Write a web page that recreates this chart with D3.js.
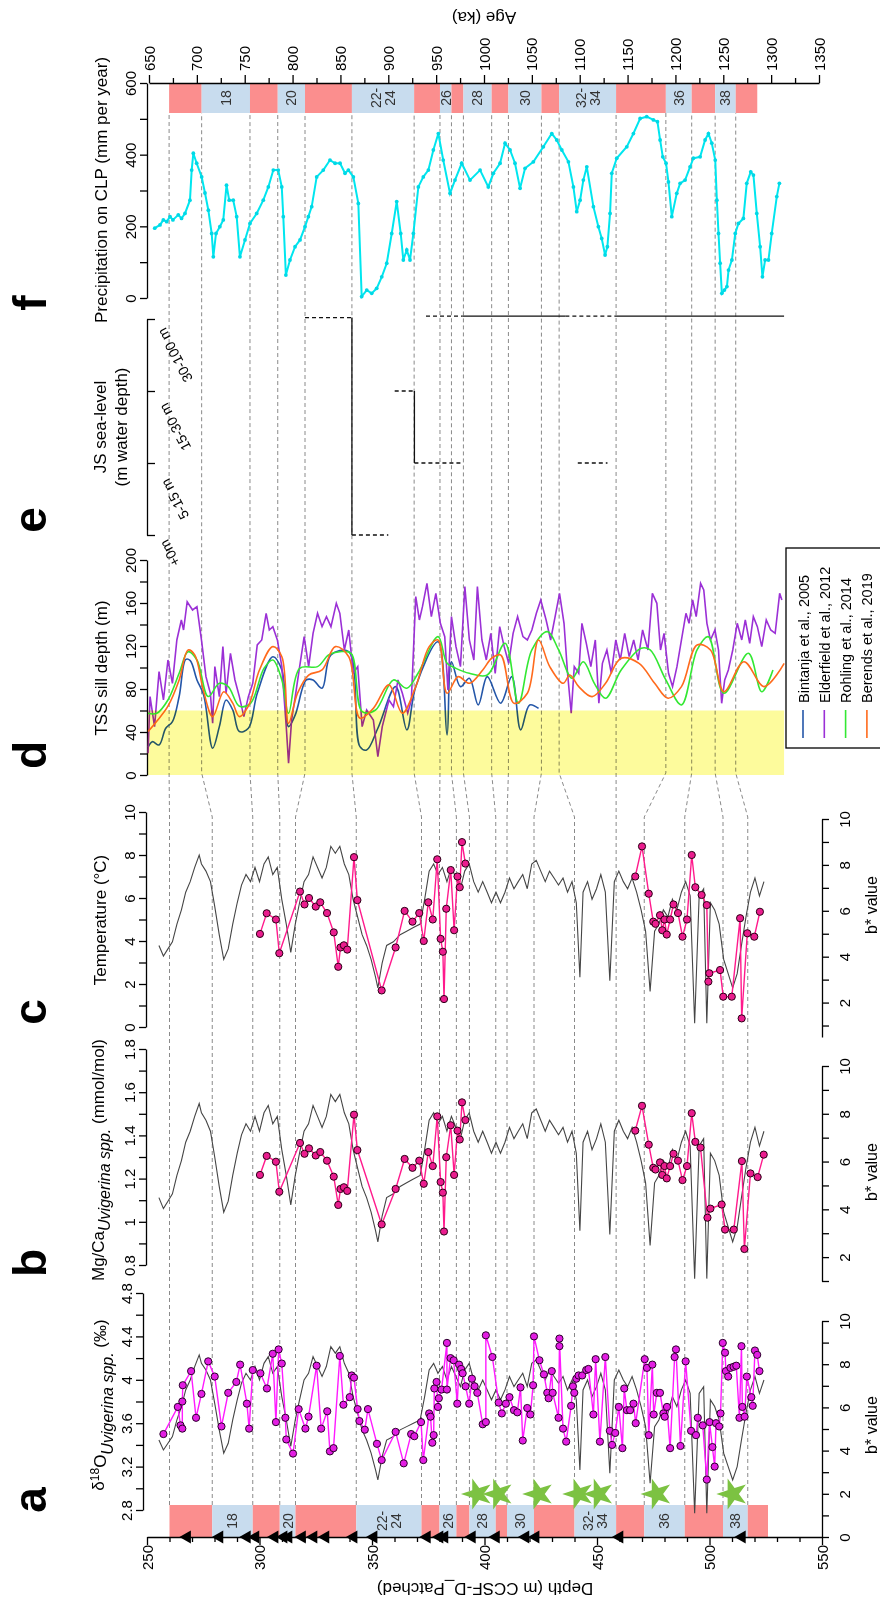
<!DOCTYPE html>
<html><head><meta charset="utf-8">
<script src="https://cdn.jsdelivr.net/npm/d3@7"></script>
<style>body{margin:0;background:#fff}svg{display:block;font-family:Arial,"Liberation Sans",Helvetica,sans-serif}</style>
</head><body><svg id="c" width="880" height="1600"></svg>
<script>
// ---------------- DATA ----------------
const depthBounds = [260,279,297,309,316,343,372,380,387.5,393.3,405,410,422,440,458.5,471,489,506,517,526];
const ageBounds   = [671,705,755.5,784.5,813,862,927,954,966,978.5,1008,1025.5,1060,1078.5,1138,1190,1217,1241.5,1263,1285.5];
const bandKinds   = ["r","b","r","b","r","b","r","b","r","b","r","b","r","b","r","b","r","b","r"];
const bandLabels  = ["","18","","20","","22-|24","","26","","28","","30","","32-|34","","36","","38",""];
const triangleDepths = [267.8,282.2,294.4,298.2,306.7,310.7,312.9,318.9,324,329.3,341.8,350.7,374.4,380,382.2,394.4,405.1,418.2,422.7,460,514.4];
const starDepths = [396.8,406.1,424,441.8,450.8,476.6,510.3];

// b* value (gray, panels a-c) [depth, b*]
const bStar = [[255.3,4.49],[257.3,4.03],[259.3,4.34],[261.3,4.65],[263.3,5.42],[265.3,6.04],[267.2,6.81],[269.2,7.27],[271.2,7.89],[273.2,8.43],[274.2,8.04],[276.2,7.73],[278.2,7.27],[280.1,6.19],[282.1,4.96],[284.1,3.88],[286.1,4.34],[288.1,5.42],[290.1,6.35],[292,7.12],[294,7.58],[296,7.27],[298,7.89],[300,7.27],[302,8.04],[303.9,8.35],[305.9,7.58],[307.9,7.89],[309.9,6.5],[311.9,5.42],[313.9,4.19],[315.9,5.42],[317.8,6.35],[319.8,7.27],[321.8,7.58],[323.8,8.35],[325.8,7.89],[327.8,7.43],[329.7,7.89],[331.7,8.81],[333.7,8.51],[335.7,8.81],[337.7,8.04],[339.7,7.58],[341.6,6.5],[343.6,5.73],[345.6,4.96],[347.6,4.49],[349.6,3.88],[351.6,3.1],[352.6,2.64],[354.5,3.72],[356.5,4.49],[359.5,4.65],[362.5,4.96],[365.4,5.11],[368.4,5.27],[371.4,5.42],[373.4,6.5],[375.4,7.73],[377.4,8.04],[379.3,7.58],[381.3,7.89],[383.3,7.27],[385.3,7.89],[387.3,7.43],[389.3,6.96],[391.2,7.73],[393.2,8.04],[395.2,7.27],[397.2,6.81],[399.2,7.27],[401.2,6.81],[403.1,6.35],[405.1,6.81],[407.1,6.35],[409.1,6.81],[411.1,7.43],[413.1,6.96],[415,7.27],[417,7.58],[419,6.96],[421,8.04],[423,8.2],[425,7.73],[427,7.27],[428.9,7.73],[430.9,7.43],[432.9,7.12],[434.9,7.43],[436.9,6.81],[438.9,7.27],[440.8,6.35],[442.4,3.1],[443.8,6.81],[445.8,7.27],[447.8,6.5],[449.8,6.96],[451.7,7.58],[453.7,6.81],[455.7,2.95],[457.7,7.27],[459.7,7.73],[461.7,7.27],[463.6,6.96],[465.6,7.43],[467.6,6.81],[469.6,6.04],[471.6,5.11],[473.6,2.49],[475.6,5.11],[477.5,5.42],[479.5,6.04],[481.5,5.73],[483.5,6.5],[485.5,6.04],[487.5,6.81],[489.4,7.27],[491.4,6.65],[493.4,1.1],[495.4,6.65],[497.4,6.96],[498.8,1.1],[500.4,6.35],[502.3,6.04],[504.3,5.42],[506.3,3.88],[508.3,3.26],[510.3,2.64],[512.3,3.26],[514.2,4.49],[516.2,5.73],[518.2,6.81],[520.2,7.43],[522.2,6.65],[524.2,7.27]];

// delta18O Uvigerina spp. [depth, permil]
const d18O = [[257.3,3.5],[263.7,3.75],[264.9,3.58],[265.7,3.55],[265.7,3.8],[265.9,3.95],[269.6,4.08],[271.8,3.65],[274.2,3.87],[277.2,4.17],[280.1,4.03],[283.1,3.57],[286.1,3.88],[289.7,3.98],[291.4,4.14],[294.4,3.78],[295.4,3.55],[297,4.09],[300.4,4.06],[303.3,3.92],[305.9,4.24],[307.3,3.61],[308.5,4.28],[309.9,4.15],[311.5,3.65],[311.9,3.45],[314.9,3.32],[317.4,3.73],[320.4,3.55],[321.8,3.66],[325.4,4.13],[327.4,3.55],[330.1,3.71],[331.3,3.34],[332.9,3.37],[335.7,4.22],[337.3,3.77],[340.1,3.84],[341,4.04],[342,4.02],[343.6,3.73],[344.4,3.62],[346.8,3.54],[348.2,3.73],[352.2,3.41],[354.3,3.26],[360.5,3.52],[364.1,3.23],[367.4,3.5],[368.8,3.48],[371.8,3.61],[372.8,3.26],[375.4,3.69],[376,3.66],[376.8,3.42],[377.4,3.49],[377.7,3.92],[378.7,3.98],[379.3,3.75],[379.7,3.83],[380.9,3.91],[383.3,4.34],[383.3,3.91],[384.9,4.2],[386.3,4.18],[387.9,3.78],[388.7,4.14],[389.6,4.1],[390.3,4.06],[391.6,3.94],[393.2,3.78],[394.4,4.01],[395.6,3.94],[396.8,3.88],[399.2,3.59],[400.6,3.61],[400.6,4.41],[403.5,4.21],[406.3,3.79],[407.7,3.69],[409.5,3.78],[411.1,3.84],[413.1,3.72],[414.6,3.7],[416,3.93],[417,3.44],[419,3.74],[420.4,3.68],[421.6,3.95],[422,4.4],[424.4,4.18],[426.4,4.05],[427.9,3.88],[428.5,3.83],[429.9,4.08],[430.3,3.88],[432.9,3.65],[433.3,4.31],[433.3,4.38],[434.9,3.55],[436.3,3.43],[438.5,3.76],[439.3,3.94],[439.9,3.88],[440.8,4.01],[441.8,4.04],[443.4,4.04],[445.2,4.09],[446.2,4.1],[448.4,3.68],[449.4,4.19],[451.3,3.43],[453.7,4.21],[455.7,3.53],[456.7,3.4],[458.1,3.51],[459.7,3.75],[461.3,3.37],[462.1,3.92],[463.3,3.72],[464.7,3.72],[466.2,3.78],[467.2,3.6],[471.2,4.19],[472.2,4.11],[473,3.49],[474.6,4.14],[475.2,3.68],[476.6,3.88],[478,3.88],[479.5,3.69],[480.1,3.66],[481.1,3.75],[482.5,3.37],[484.5,4.21],[485.1,4.28],[487.1,3.39],[489.4,4.17],[491.8,3.53],[494,3.49],[494.8,3.65],[497,3.58],[498.8,3.08],[500,3.61],[501.3,3.38],[502.3,3.2],[502.9,3.6],[504.3,3.57],[504.9,3.69],[505.9,4.34],[506.9,4.25],[507.3,4.08],[508.3,4.03],[509.3,4.11],[510.7,4.12],[511.9,4.13],[513.3,3.65],[514.2,4.31],[514.6,3.75],[515.6,3.66],[516.6,4.03],[518.6,3.84],[519.2,3.76],[520.2,4.27],[521.2,4.23],[522.2,4.08]];

// Mg/Ca Uvigerina spp. [depth, mmol/mol]
const mgca = [[300.2,1.217],[303.2,1.305],[307.3,1.278],[308.8,1.139],[318,1.365],[320,1.315],[322,1.34],[325,1.307],[327,1.323],[330,1.283],[333,1.209],[335,1.078],[336,1.152],[337.5,1.16],[339,1.143],[342,1.496],[343.5,1.332],[354.3,0.988],[360.5,1.152],[364.5,1.291],[368,1.25],[371,1.283],[373,1.176],[375,1.323],[377,1.258],[379,1.488],[380.5,1.184],[381.5,1.135],[382,0.955],[383,1.299],[385,1.447],[386.5,1.217],[388,1.422],[389,1.381],[390,1.553],[391.5,1.471],[467,1.422],[470,1.537],[473,1.357],[475,1.25],[476,1.242],[478,1.275],[479,1.217],[480,1.258],[481,1.201],[482.5,1.258],[484,1.315],[486,1.283],[488,1.193],[490,1.258],[492.1,1.503],[493.7,1.37],[496,1.344],[499.1,1.019],[500.4,1.061],[505.4,1.08],[506.9,0.964],[510.8,0.964],[514.4,1.281],[515.5,0.874],[518.2,1.224],[521.4,1.207],[524.1,1.311]];

// Temperature [depth, degC]
const temp = [[300.2,4.33],[303.2,5.29],[307.3,5.0],[308.8,3.43],[318,6.3],[320,5.7],[322,6.0],[325,5.6],[327,5.8],[330,5.3],[333,4.4],[335,2.8],[336,3.7],[337.5,3.8],[339,3.6],[342,7.9],[343.5,5.9],[354.3,1.7],[360.5,3.7],[364.5,5.4],[368,4.9],[371,5.3],[373,4.0],[375,5.8],[377,5.0],[379,7.8],[380.5,4.1],[381.5,3.5],[382,1.3],[383,5.5],[385,7.3],[386.5,4.5],[388,7.0],[389,6.5],[390,8.6],[391.5,7.6],[467,7.0],[470,8.4],[473,6.2],[475,4.9],[476,4.8],[478,5.2],[479,4.5],[480,5.0],[481,4.3],[482.5,5.0],[484,5.7],[486,5.3],[488,4.2],[490,5.0],[492.1,8.0],[493.7,6.5],[496.5,6.14],[498.8,5.67],[499.5,2.11],[499.9,2.5],[504.7,2.65],[506.1,1.41],[509.9,1.41],[513.6,5.06],[514.3,0.4],[516.8,4.36],[519.9,4.2],[522.4,5.36]];

// TSS sill depth [age ka, m]
const bintanja = [[649,26],[653.5,31],[660.5,28],[667.5,43.5],[674.5,49.7],[681.5,73],[688.5,107.6],[693.1,106.4],[700.1,88.4],[707.1,74.4],[716.5,24.9],[723.5,45],[730.5,69.8],[737.5,60.5],[744.4,40.4],[753.8,43.5],[763.1,76],[779.4,110],[788.8,97.7],[795.8,45],[802.8,55.9],[814.4,88.4],[821.4,88.4],[830.8,80.7],[840.1,111.7],[858.7,114.7],[870.4,26.4],[877.4,23.3],[889.1,43.5],[907.7,82.2],[919.4,42],[928.7,82.2],[952,124],[961.4,37.3],[966,105.4],[975.4,82.2],[984.7,90],[994,65.2],[1003.4,91.5],[1017.4,66.8],[1029,91.5],[1038.3,42],[1047.7,65.2],[1057,62]];
const elderfield = [[649,20.2],[651.1,72.9],[655.8,45],[660.5,96.2],[665.1,69.8],[669.8,107],[674.5,85.3],[679.1,125.6],[683.8,144.2],[686.1,134.9],[689.9,161.2],[695.5,153.5],[700.1,156.6],[704.8,125.6],[709.5,91.5],[714.1,76],[716.5,48.1],[718.8,100.8],[723.5,72.9],[727.2,119.4],[730.5,76],[735.1,113.2],[739.8,88.4],[744.4,72.9],[749.1,54.3],[753.8,72.9],[758.4,85.3],[763.1,121],[767.8,125.6],[772.4,150.4],[775.7,134.9],[779.4,138],[784.1,125.6],[788.8,100.8],[793.4,45],[795.8,10.9],[799,51.2],[802.8,72.9],[807.4,100.8],[812.1,128.7],[816.8,100.8],[821.4,131.8],[826.1,150.4],[830.8,138],[835.4,147.3],[840.1,138],[845.7,159.7],[849.4,150.4],[854.1,116.3],[858.7,134.9],[863.4,94.6],[868.1,100.8],[872.7,45],[877.4,60.5],[884.4,51.2],[889.1,17.1],[893.7,45],[900.7,69.8],[905.4,63.6],[910.1,88.4],[914.7,76],[920.3,57.4],[924.1,69.8],[928.7,165.9],[932.5,144.2],[935.7,156.6],[940.4,178.3],[945,147.3],[949.7,169],[954.4,141.1],[959,128.7],[962.3,79.1],[966,147.3],[970.7,119.4],[975.4,100.8],[980,175.2],[984.7,125.6],[989.4,107],[993.1,175.2],[997.8,125.6],[1002.4,107],[1007.1,131.8],[1011.7,94.6],[1016.4,138],[1021.1,119.4],[1025.8,103.9],[1030.4,131.8],[1035.1,147.3],[1040.7,128.7],[1045.3,125.6],[1050,134.9],[1054.7,150.4],[1059.3,162.8],[1064.9,144.2],[1069.6,125.6],[1074.3,147.3],[1078.9,169],[1083.6,141.1],[1087.3,94.6],[1091.1,57.4],[1094.3,100.8],[1099,94.6],[1102.3,141.1],[1106.9,122.5],[1111.6,100.8],[1116.3,125.6],[1120,66.7],[1123.7,103.9],[1128.4,116.3],[1133,94.6],[1137.7,125.6],[1142.4,107],[1147,131.8],[1151.7,110.1],[1156.4,125.6],[1161,107],[1165.7,134.9],[1171.3,116.3],[1175.9,169],[1180.6,159.7],[1184.4,116.3],[1188.1,131.8],[1192.8,94.6],[1197,82.2],[1201.6,100.8],[1206.3,125.6],[1211,150.4],[1214.2,141.1],[1218,162.8],[1221.7,147.3],[1226.3,178.3],[1229.6,172.1],[1232.9,141.1],[1236.6,125.6],[1241.3,134.9],[1245,116.3],[1248.3,66.7],[1251.5,88.4],[1255.3,97.7],[1259.9,116.3],[1264.6,141.1],[1269.3,125.6],[1273,144.2],[1277.6,122.5],[1281.4,147.3],[1285.6,138],[1290.2,119.4],[1294.9,144.2],[1299.6,134.9],[1304.2,131.8],[1308.9,169],[1311.2,162.8]];
const rohling = [[649,57.4],[658.1,57.4],[669.8,69.8],[681.5,94.6],[690.8,114.7],[700.1,107],[711.8,73],[723.5,85.3],[732.8,82.2],[744.4,64],[756.1,66.7],[770.1,99.2],[779.4,107],[788.8,88.4],[795.8,57.4],[807.4,99.2],[826.1,100.8],[837.7,111.7],[849.4,114.7],[861.1,113.2],[872.7,59],[886.7,60.5],[905.4,88.4],[919.4,80.7],[931.1,94.6],[952,128.7],[961.4,103.9],[970.7,99.2],[984.7,94.6],[1003.4,93],[1022,122.5],[1036,66.7],[1050,116.3],[1066.3,133.4],[1078,116.3],[1092,90],[1103.7,105.4],[1115.3,85.3],[1127,71.4],[1143.3,97.7],[1164.3,117.9],[1173.6,116.3],[1190,88.4],[1206.3,65.2],[1222.6,116.3],[1234.3,128.7],[1250.6,76],[1276.2,113.2],[1290.2,77.5],[1301.9,97.7]];
const berends = [[649,40.4],[658.1,50],[669.8,64],[681.5,88.4],[690.8,116.3],[697.8,111.7],[707.1,77.5],[716.5,54.3],[728.1,77.5],[737.5,66.8],[744.4,54.3],[753.8,64],[765.4,97.7],[779.4,119.4],[788.8,110],[795.8,48],[805.1,76],[816.8,93],[830.8,97.7],[844.7,119.4],[858.7,110],[870.4,52.8],[884.4,62],[900.7,83.8],[914.7,57.4],[928.7,82.2],[942.7,119.4],[952,125.6],[961.4,76],[973,91.5],[984.7,85.3],[998.7,97.7],[1008,108.6],[1017.4,111.7],[1031.3,66.7],[1045.3,76],[1057,125.6],[1068.7,100.8],[1082.7,85.3],[1089.7,93],[1099,82.2],[1113,72.9],[1127,85.3],[1143.3,108.6],[1162,103.9],[1178.3,85.3],[1192.3,71.4],[1206.3,82.2],[1222.6,121],[1236.6,116.3],[1250.6,77.5],[1271.6,105.4],[1292.6,82.2],[1313.6,103.9]];
const tssNames = ["Bintanja et al., 2005","Elderfield et al., 2012","Rohling et al., 2014","Berends et al., 2019"];
const tssColors = ["#2456a8","#9b30d6","#33e833","#ff6a1c"];

// JS sea-level steps: [ageStart, ageEnd, levelStart, levelEnd, dashed]
const jsLevelLabels = ["+0m","5-15 m","15-30 m","30-100 m"];
const jsSteps = [[813,862,3.02,3.02,1],[862,862,3.02,0,0],[862,900,0,0,1],[906.7,927.3,2,2,1],[927.3,927.3,2,1,0],[927.3,977,1,1,1],[1098,1129,1,1,1],[939.4,977.7,3.04,3.04,1],[977.7,1085,3.04,3.04,0],[1085,1140,3.04,3.04,1],[1140,1313.5,3.04,3.04,0]];

// Precipitation on CLP [age ka, mm/yr]
const precip = [[656,195],[661.5,204],[665,218],[668.5,213],[672,227],[675,218],[680.6,232],[684,222],[687.6,236],[692.8,273],[694.6,357],[696.3,404],[699.8,376],[705,338],[708.5,293],[712,245],[715.5,180],[717.2,115],[720,180],[724,199],[727.6,218],[731,315],[733.8,273],[738,273],[741.6,227],[745,115],[750.3,162],[755.5,208],[762.5,236],[769.4,273],[774.7,310],[779.9,357],[785,357],[788.7,310],[790.3,227],[793,64],[797.3,106],[802.6,143],[807.8,162],[813,199],[816.5,227],[820,255],[825.2,338],[832.1,357],[839.1,385],[844.4,376],[849.6,376],[854.8,348],[858.3,357],[863.5,338],[868.7,264],[872.2,4],[877.5,22],[882.7,13],[887.9,27],[893.2,59],[898.4,97],[903.6,180],[908.8,269],[913,180],[915.7,106],[919.3,134],[922.7,106],[926.2,180],[931.4,310],[936.6,338],[941.9,357],[947.1,413],[952.3,459],[957.4,385],[964.5,292],[969.7,329],[976.7,376],[985.4,329],[995.9,357],[1004.5,310],[1009.8,348],[1016.8,376],[1022,432],[1027.2,413],[1032.4,376],[1037.7,306],[1042.9,362],[1051.6,380],[1062,422],[1070.8,459],[1076,441],[1081.3,413],[1088.2,380],[1093.4,310],[1096.9,241],[1100.4,273],[1103.8,329],[1107.4,366],[1114.3,255],[1119.5,199],[1123,166],[1126.5,120],[1128.9,143],[1131.7,236],[1133.5,348],[1138.7,390],[1149.2,422],[1156.1,459],[1163.1,501],[1170,506],[1177,497],[1181.2,492],[1184,441],[1186.8,394],[1190.2,376],[1192.7,324],[1196.2,227],[1201.4,292],[1204.9,320],[1210.1,329],[1215.3,366],[1218.8,390],[1225.8,394],[1231,441],[1234.5,459],[1238,432],[1241.6,385],[1243.3,273],[1245,180],[1246.7,97],[1248.5,13],[1251.2,22],[1253.8,32],[1255.5,78],[1259,106],[1262.5,180],[1265.8,208],[1271,222],[1274.5,320],[1278.7,352],[1281.5,343],[1285,236],[1288.5,143],[1290.9,59],[1293.7,106],[1297.2,106],[1300.6,180],[1305.9,283],[1308.6,320]];

// ---------------- SCALES ----------------
const svg = d3.select('#c');
const FONT = 'Arial,"Liberation Sans",sans-serif';
const xDepth = d3.scaleLinear().domain([250,550]).range([147,822]);
const xAge = d3.scaleLinear().domain([650,1350]).range([149,819]);
const yD18O = d3.scaleLinear().domain([2.8,4.8]).range([1510,1293]);
const yBa = d3.scaleLinear().domain([0,10]).range([1537,1321]);
const yMg = d3.scaleLinear().domain([0.8,1.8]).range([1265,1049]);
const yBb = d3.scaleLinear().domain([1,10]).range([1281,1066]);
const yT = d3.scaleLinear().domain([0,10]).range([1027,812]);
const yBc = d3.scaleLinear().domain([0.5,10]).range([1037,819]);
const yTSS = d3.scaleLinear().domain([0,200]).range([775,560]);
const yJS = d3.scaleLinear().domain([0,3]).range([535,319]);
const yP = d3.scaleLinear().domain([0,600]).range([298,83]);
const bandTopBottom = {y0:1505, y1:1537};
const bandTopTop = {y0:83, y1:113};
const COL = {red:"#fb8e8e", blue:"#c8dcee", dash:"#8a8a8a"};
const TICKFS = '15px';

const near = (a, arr) => arr.some(v => Math.abs(v - a) < 1e-6);
const range = (a,b,s) => d3.range(a, b + s/2, s).map(v => +v.toFixed(4));
const splitGaps = (data, gap) => {
  const out = [[]];
  data.forEach((d, i) => { if (i && d[0] - data[i-1][0] > gap) out.push([]); out[out.length-1].push(d); });
  return out;
};

// ---------------- DASHED CONNECTORS ----------------
const conn = svg.append('g');
for (let i = 0; i < 19; i++) {
  const xd = xDepth(depthBounds[i]), xa = xAge(ageBounds[i]);
  conn.append('path')
    .attr('d', d3.line()([[xd, bandTopBottom.y0],[xd, yT(10)+5],[xa, yTSS(0)-2],[xa, bandTopTop.y1]]))
    .attr('fill','none').attr('stroke',COL.dash).attr('stroke-width',1).attr('stroke-dasharray','4,3');
}

// ---------------- BANDS ----------------
function bands(xs, bounds, y0, y1) {
  const g = svg.append('g');
  bandKinds.forEach((k, i) => {
    const xa = xs(bounds[i]), xb = xs(bounds[i+1]);
    g.append('rect').attr('x', xa).attr('y', y0).attr('width', xb - xa).attr('height', y1 - y0)
      .attr('fill', k === 'r' ? COL.red : COL.blue);
    if (bandLabels[i]) {
      const parts = bandLabels[i].split('|');
      const t = g.append('text').attr('transform', `translate(${(xa+xb)/2},${(y0+y1)/2}) rotate(-90)`)
        .attr('text-anchor','middle').style('font-size','14px').attr('fill','#333');
      if (parts.length === 1) t.append('tspan').attr('x',0).attr('dy','0.35em').text(parts[0]);
      else { t.append('tspan').attr('x',0).attr('dy','-0.15em').text(parts[0]); t.append('tspan').attr('x',0).attr('dy','1.0em').text(parts[1]); }
    }
  });
}
bands(xDepth, depthBounds, bandTopBottom.y0, bandTopBottom.y1);
bands(xAge, ageBounds, bandTopTop.y0, bandTopTop.y1);

// ---------------- AXES ----------------
function styleAxis(g) {
  g.select('.domain').attr('stroke','#000').attr('stroke-width',1.3);
  g.selectAll('.tick line').attr('stroke','#000').attr('stroke-width',1.3);
  g.selectAll('.tick text').attr('fill','#000').style('font-size',TICKFS).style('font-family',FONT);
}
function vAxis(scale, x, ticks, labels, side, fmt) {
  const ax = (side === 'left' ? d3.axisLeft(scale) : d3.axisRight(scale))
    .tickValues(ticks).tickSize(7).tickSizeOuter(0)
    .tickFormat(d => near(d, labels) ? fmt(d) : '');
  const g = svg.append('g').attr('transform', `translate(${x},0)`).call(ax);
  styleAxis(g);
  g.selectAll('.tick text').attr('transform','rotate(-90)').attr('x',0).attr('dy',0)
    .attr('y', side === 'left' ? -11 : 28).attr('text-anchor','middle');
  return g;
}
const f0 = d3.format('d');
const fTrim = d => (Math.round(d*10)/10).toString();
vAxis(yD18O, 143, range(2.8,4.8,0.2), [2.8,3.2,3.6,4.0,4.4,4.8], 'left', fTrim);
vAxis(yBa, 822, range(0,10,1), [0,2,4,6,8,10], 'right', f0);
vAxis(yMg, 146, range(0.8,1.8,0.1), [0.8,1.0,1.2,1.4,1.6,1.8], 'left', fTrim);
vAxis(yBb, 822, range(1,10,1), [2,4,6,8,10], 'right', f0);
vAxis(yT, 146, range(0,10,1), [0,2,4,6,8,10], 'left', f0);
vAxis(yBc, 822, range(1,10,1), [2,4,6,8,10], 'right', f0);
vAxis(yTSS, 147, range(0,200,20), [0,40,80,120,160,200], 'left', f0);
vAxis(yP, 147, range(0,600,100), [0,200,400,600], 'left', f0);
{
  const g = svg.append('g').attr('transform','translate(147,0)')
    .call(d3.axisRight(yJS).tickValues([0,1,2,3]).tickSize(8).tickSizeOuter(0).tickFormat(''));
  styleAxis(g);
}
{
  const g = svg.append('g').attr('transform', `translate(0,${bandTopBottom.y1})`)
    .call(d3.axisBottom(xDepth).tickValues(range(250,550,10)).tickSizeOuter(0)
      .tickFormat(d => d % 50 === 0 ? f0(d) : ''));
  styleAxis(g);
  g.selectAll('.tick line').attr('y2', d => d % 50 === 0 ? 8 : 5);
  g.selectAll('.tick text').attr('transform','rotate(-90)').attr('x',-8).attr('y',5).attr('dy',0).attr('text-anchor','end');
}
{
  const g = svg.append('g').attr('transform', `translate(0,${bandTopTop.y0})`)
    .call(d3.axisTop(xAge).tickValues(range(650,1350,25)).tickSizeOuter(0)
      .tickFormat(d => d % 50 === 0 ? f0(d) : ''));
  styleAxis(g);
  g.selectAll('.tick line').attr('y2', d => d % 50 === 0 ? -8 : -5);
  g.selectAll('.tick text').attr('transform','rotate(-90)').attr('x',12).attr('y',5).attr('dy',0).attr('text-anchor','start');
}

// ---------------- SERIES ----------------
const lineDepth = (ys) => d3.line().x(d => xDepth(d[0])).y(d => ys(d[1]));
const lineAge = (ys, curve) => d3.line().x(d => xAge(d[0])).y(d => ys(d[1])).curve(curve || d3.curveLinear);

[yBa, yBb, yBc].forEach(ys => {
  svg.append('path').attr('d', lineDepth(ys)(bStar)).attr('fill','none').attr('stroke','#454545').attr('stroke-width',1.1);
});
svg.append('path').attr('d', lineDepth(yD18O)(d18O)).attr('fill','none').attr('stroke','#ff1aff').attr('stroke-width',1.4);
svg.append('g').selectAll('circle').data(d18O).join('circle')
  .attr('cx', d => xDepth(d[0])).attr('cy', d => yD18O(d[1])).attr('r',3.6)
  .attr('fill','#e21ee2').attr('stroke','#2a002a').attr('stroke-width',1);
[[mgca, yMg],[temp, yT]].forEach(([data, ys]) => {
  splitGaps(data, 40).forEach(seg => {
    svg.append('path').attr('d', lineDepth(ys)(seg)).attr('fill','none').attr('stroke','#ff1a8c').attr('stroke-width',1.4);
  });
  svg.append('g').selectAll('circle').data(data).join('circle')
    .attr('cx', d => xDepth(d[0])).attr('cy', d => ys(d[1])).attr('r',3.6)
    .attr('fill','#ea1d8e').attr('stroke','#2a0015').attr('stroke-width',1);
});
svg.append('g').selectAll('path').data(starDepths).join('path')
  .attr('d', d3.symbol(d3.symbolStar, 300)())
  .attr('transform', d => `translate(${xDepth(d)},1494) rotate(-90)`)
  .attr('fill','#7cc242');
svg.append('g').selectAll('path').data(triangleDepths).join('path')
  .attr('d', d3.symbol(d3.symbolTriangle, 75)())
  .attr('transform', d => `translate(${xDepth(d)},${bandTopBottom.y1}) rotate(-90)`)
  .attr('fill','#000');

[[bintanja, d3.curveCatmullRom],[elderfield, d3.curveLinear],[rohling, d3.curveCatmullRom],[berends, d3.curveCatmullRom]].forEach(([data, cv], i) => {
  svg.append('path').attr('d', lineAge(yTSS, cv)(data)).attr('fill','none').attr('stroke', tssColors[i]).attr('stroke-width',1.6);
});
svg.append('rect').attr('x', xAge(650) - 2).attr('y', yTSS(60)).attr('width', xAge(1313.5) - xAge(650) + 2)
  .attr('height', yTSS(0) - yTSS(60)).attr('fill','#fdfb9c').style('mix-blend-mode','multiply');
{
  const g = svg.append('g');
  g.append('rect').attr('x',786).attr('y',548).attr('width',100).attr('height',200).attr('fill','#fff').attr('stroke','#000').attr('stroke-width',1.3);
  tssNames.forEach((n, i) => {
    const x = 803 + i * 21.3;
    g.append('line').attr('x1',x).attr('x2',x).attr('y1',710).attr('y2',738).attr('stroke',tssColors[i]).attr('stroke-width',1.6);
    g.append('text').attr('transform',`translate(${x+5.5},703) rotate(-90)`).style('font-size','14.5px').text(n);
  });
}

svg.append('g').selectAll('line').data(jsSteps).join('line')
  .attr('x1', d => xAge(d[0])).attr('x2', d => xAge(d[1]))
  .attr('y1', d => yJS(d[2])).attr('y2', d => yJS(d[3]))
  .attr('stroke','#111').attr('stroke-width',1.3)
  .attr('stroke-dasharray', d => d[4] ? '4,3' : null);
const jsLabelPos = [0, 0.5, 1.5, 2.5];
jsLevelLabels.forEach((t, i) => {
  const y = i === 0 ? yJS(0) + 18 : yJS(jsLabelPos[i]);
  svg.append('text').attr('transform', `translate(${i === 0 ? 170 : 175},${y}) rotate(-118)`)
    .attr('text-anchor','middle').attr('dy','0.35em').style('font-size','14px').text(t);
});

svg.append('path').attr('d', lineAge(yP)(precip)).attr('fill','none').attr('stroke','#00e6ef').attr('stroke-width',2);
svg.append('g').selectAll('circle').data(precip).join('circle')
  .attr('cx', d => xAge(d[0])).attr('cy', d => yP(d[1])).attr('r',1.9).attr('fill','#00d8e6');

// ---------------- TEXT ----------------
function rtext(x, y, angle, size, weight) {
  return svg.append('text').attr('transform', `translate(${x},${y}) rotate(${angle})`)
    .attr('text-anchor','middle').style('font-size', size + 'px').style('font-weight', weight || 'normal').attr('fill','#000');
}
[["a",1500],["b",1263],["c",1012],["d",755],["e",520],["f",303]].forEach(([l, y]) => {
  rtext(46, y, -90, 46, 'bold').text(l);
});
{
  const t = rtext(104, 1405, -90, 17);
  t.append('tspan').text('δ');
  t.append('tspan').attr('dy','-0.45em').style('font-size','12px').text('18');
  t.append('tspan').attr('dy','0.45em').text('O');
  t.append('tspan').attr('dy','0.4em').style('font-style','italic').style('font-size','16px').text('Uvigerina spp.');
  t.append('tspan').attr('dy','-0.4em').text('  (‰)');
}
{
  const t = rtext(104, 1160, -90, 17);
  t.append('tspan').text('Mg/Ca');
  t.append('tspan').attr('dy','0.4em').style('font-style','italic').style('font-size','16px').text('Uvigerina spp.');
  t.append('tspan').attr('dy','-0.4em').text(' (mmol/mol)');
}
rtext(106, 920, -90, 17).text('Temperature (°C)');
rtext(107, 668, -90, 17).text('TSS sill depth (m)');
rtext(106, 427, -90, 17).text('JS sea-level');
rtext(127, 427, -90, 17).text('(m water depth)');
rtext(107, 190, -90, 17).text('Precipitation on CLP (mm per year)');
rtext(877, 1425, -90, 16).text('b* value');
rtext(877, 1172, -90, 16).text('b* value');
rtext(877, 905, -90, 16).text('b* value');
rtext(484, 12, 180, 17).text('Age (ka)');
rtext(485, 1583, 180, 17).text('Depth (m CCSF-D_Patched)');
</script></body></html>
